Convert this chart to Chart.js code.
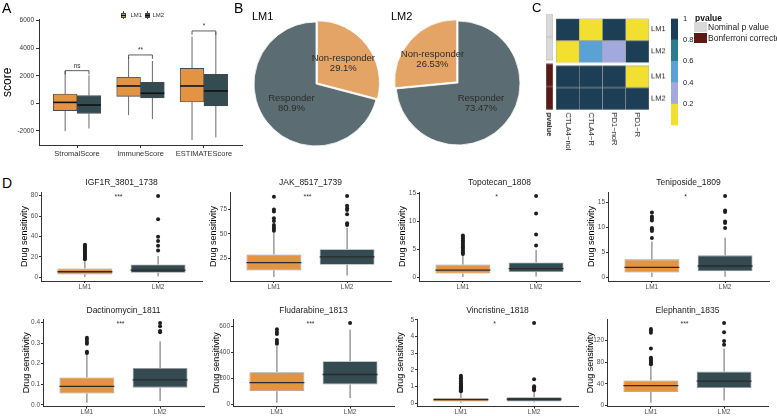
<!DOCTYPE html>
<html><head><meta charset="utf-8">
<script src="https://cdn.jsdelivr.net/npm/chart.js@4"></script>
<style>
body{margin:0;width:777px;height:416px;position:relative;background:#fff;overflow:hidden;font-family:'Liberation Sans',Arial,Helvetica,sans-serif;}
canvas{position:absolute;}
.t{position:absolute;white-space:nowrap;line-height:1;color:#000;}
.sw{position:absolute;}
</style></head><body>
<script>
// ---------------- DATA ----------------
// Panel A
const aCategories = ['StromalScore','ImmuneScore','ESTIMATEScore'];
const aGroups = ['LM1','LM2'];
const aLM1Min = [-2010, -850, -2660];
const aLM1Q1  = [-530, 510, 100];
const aLM1Med = [70, 1260, 1260];
const aLM1Q3  = [680, 1890, 2540];
const aLM1Max = [2350, 3360, 4840];
const aLM2Min = [-1820, -1140, -2470];
const aLM2Q1  = [-730, 390, -190];
const aLM2Med = [-120, 730, 900];
const aLM2Q3  = [560, 1530, 2110];
const aLM2Max = [2030, 3070, 5150];
const aSigLabels = ['ns','**','*'];
const aSigHeights = [2370, 3510, 5250];
const aYTicks = [-2000, 0, 2000, 4000, 6000];

// Panel B
const pieTitles = ['LM1','LM2'];
const lm1PieLabels = ['Non-responder','Responder'];
const lm1PieValues = [29.1, 70.9];
const lm1PieText = ['29.1%','80.9%'];
const lm2PieLabels = ['Responder','Non-responder'];
const lm2PieValues = [73.47, 26.53];
const lm2PieText = ['73.47%','26.53%'];

// Panel C
const hmColumns = ['CTLA4\u2212noR','CTLA4\u2212R','PD1\u2212noR','PD1\u2212R'];
const nominalLM1 = [0.95, 0.08, 0.92, 0.05];
const nominalLM2 = [0.10, 0.50, 0.30, 0.95];
const bonfLM1 = [1, 1, 1, 0.15];
const bonfLM2 = [1, 1, 1, 1];
const cbTicks = [0.2, 0.4, 0.6, 0.8, 1];
const cbBins = [0, 0.2, 0.4, 0.6, 0.8, 1];

// Panel D
const dGroups = ['LM1','LM2'];
const drugs = ['IGF1R_3801_1738','JAK_8517_1739','Topotecan_1808','Teniposide_1809','Dactinomycin_1811','Fludarabine_1813','Vincristine_1818','Elephantin_1835'];
const drugSig = ['***','***','*','*','***','***','*','***'];
const dLM1Min = [0.5, 6, 0.1, 0.05, 0.011, 15, 0.03, 5];
const dLM1Q1  = [3.0, 12.7, 0.72, 0.92, 0.056, 104, 0.10, 24.8];
const dLM1Med = [5.6, 20.5, 1.3, 1.98, 0.090, 168, 0.22, 36.4];
const dLM1Q3  = [8.8, 28.8, 2.3, 3.56, 0.133, 249, 0.32, 46];
const dLM1Max = [17, 51.4, 4.0, 7.1, 0.244, 447, 0.66, 74];
const dLM2Min = [1.0, 7.5, 0.18, 0.1, 0.019, 51, 0.04, 9];
const dLM2Q1  = [4.6, 18.5, 0.98, 1.19, 0.084, 155, 0.10, 32];
const dLM2Med = [7.2, 26.4, 1.6, 2.24, 0.122, 231, 0.24, 44.8];
const dLM2Q3  = [12.7, 34.3, 2.68, 4.36, 0.179, 333, 0.36, 62.4];
const dLM2Max = [20.9, 56.2, 4.9, 7.9, 0.308, 574, 0.72, 105];
const dLM1Out = [
  [17.8,19,20,21,22,23,24,25,26,27,28,29,30,31,32],
  [53,55,57,59,63,65.8,72.6,74.7,87.7],
  [4.2,4.5,4.8,5.1,5.4,5.7,6.0,6.3,6.6,6.9,7.2,7.5],
  [7.85,9.2,9.5,9.8,11.3,11.7,12.1,12.9],
  [0.252,0.258,0.297,0.305,0.316,0.325],
  [467,480,495,541,556,578],
  [0.72,0.78,0.85,0.9,0.95,1.0,1.05,1.1,1.15,1.2,1.3,1.4,1.5,1.58,1.65],
  [76,78,80,82,84,86,88,105,134,138,141]
];
const dLM2Out = [
  [26.4,31,35.6,39.8,56.8,79.5],
  [59,60.6,69.9,74.3,76,78.4,88.4],
  [5.7,7.65,11.4,14.5],
  [9.8,10.8,11.1,13.0,13.3,16.2],
  [0.352,0.358,0.381,0.397],
  [625],
  [0.78,0.85,0.95,1.02,1.44,4.82],
  [112,119,135,152]
];
const dTicks = [
  [0,20,40,60,80],[25,50,75],[0,5,10,15],[0,5,10,15],
  [0,0.1,0.2,0.3,0.4],[0,200,400,600],[0,1,2,3,4,5],[0,40,80,120]
];

// ---------------- STYLE / LAYOUT ----------------
const FONT = "'Liberation Sans', Arial, Helvetica, sans-serif";
const ORANGE = '#E39443', DARK = '#344B51';
const PIE_ORANGE = '#E4A466', PIE_GRAY = '#5B6D72';
const cbColors = ['#F2DF2F','#A2A9DC','#5AA2D3','#2C7B91','#1D3F56'];
const ANNO_NOM = '#D9D9D9', ANNO_BONF = '#5B1A13';
Chart.defaults.font.family = FONT;
Chart.defaults.animation = false;
Chart.defaults.responsive = false;
Chart.defaults.events = [];
Chart.defaults.plugins.legend.display = false;
Chart.defaults.plugins.tooltip.enabled = false;

function mk(left, top, w, h){
  const c = document.createElement('canvas');
  c.width = w; c.height = h;
  c.style.left = left + 'px'; c.style.top = top + 'px';
  c.style.width = w + 'px'; c.style.height = h + 'px';
  document.body.appendChild(c);
  return c;
}
function txt(s, left, top, size, extra){
  const d = document.createElement('div');
  d.className = 't'; d.textContent = s;
  d.style.left = left + 'px'; d.style.top = top + 'px'; d.style.fontSize = size + 'px';
  if (extra) Object.assign(d.style, extra);
  document.body.appendChild(d);
  return d;
}
function sw(left, top, w, h, css){
  const d = document.createElement('div');
  d.className = 'sw';
  Object.assign(d.style, {left:left+'px', top:top+'px', width:w+'px', height:h+'px'}, css);
  document.body.appendChild(d);
  return d;
}

// box-plot whiskers + medians drawn through the chart scales
const boxPlugin = {
  id: 'boxWhisk',
  beforeDatasetsDraw(chart){
    const ys = chart.scales.y, ctx = chart.ctx;
    chart.data.datasets.forEach((ds, di) => {
      if (!ds.stats) return;
      const meta = chart.getDatasetMeta(di);
      meta.data.forEach((bar, i) => {
        ctx.save();
        ctx.strokeStyle = ds.whiskerColor; ctx.lineWidth = ds.whiskerWidth;
        ctx.beginPath();
        ctx.moveTo(bar.x, ys.getPixelForValue(ds.stats.max[i]));
        ctx.lineTo(bar.x, ys.getPixelForValue(ds.data[i].y[1]));
        ctx.moveTo(bar.x, ys.getPixelForValue(ds.data[i].y[0]));
        ctx.lineTo(bar.x, ys.getPixelForValue(ds.stats.min[i]));
        ctx.stroke(); ctx.restore();
      });
    });
  },
  afterDatasetDraw(chart, args){
    const ds = chart.data.datasets[args.index];
    if (!ds.stats) return;
    const ys = chart.scales.y, ctx = chart.ctx;
    args.meta.data.forEach((bar, i) => {
      const y = ys.getPixelForValue(ds.stats.med[i]);
      ctx.save();
      ctx.strokeStyle = ds.medianColor; ctx.lineWidth = ds.medianWidth;
      ctx.beginPath();
      ctx.moveTo(bar.x - bar.width/2, y); ctx.lineTo(bar.x + bar.width/2, y);
      ctx.stroke(); ctx.restore();
    });
  }
};

// ---------------- PANEL A ----------------
const DODGE = 0.1875;
function boxData(q1, q3, shift){ return q1.map((v, i) => ({x: i + 1 + shift, y: [v, q3[i]]})); }
const aBracketPlugin = {
  id: 'aBracket',
  afterDatasetsDraw(chart){
    const xs = chart.scales.x, ys = chart.scales.y, ctx = chart.ctx;
    const tip = (ys.max - ys.min) * 0.03;
    ctx.save();
    ctx.strokeStyle = '#333'; ctx.lineWidth = 0.8; ctx.fillStyle = '#333';
    ctx.font = '6.5px ' + FONT; ctx.textAlign = 'center'; ctx.textBaseline = 'bottom';
    aSigHeights.forEach((h, i) => {
      const x1 = xs.getPixelForValue(i + 1 - DODGE), x2 = xs.getPixelForValue(i + 1 + DODGE);
      const y = ys.getPixelForValue(h), yt = ys.getPixelForValue(h - tip);
      ctx.beginPath(); ctx.moveTo(x1, yt); ctx.lineTo(x1, y); ctx.lineTo(x2, y); ctx.lineTo(x2, yt); ctx.stroke();
      ctx.fillText(aSigLabels[i], (x1 + x2) / 2, y - 1);
    });
    ctx.restore();
  }
};
const aBoxCommon = {borderColor:'#4a4a4a', borderWidth:0.9, borderSkipped:false, grouped:false,
  barPercentage:1, categoryPercentage:1, whiskerColor:'#6a6a6a', whiskerWidth:1, medianColor:'#111', medianWidth:1.6};
new Chart(mk(0, 0, 250, 170), {
  type: 'bar',
  data: {datasets: [
    Object.assign({label: aGroups[0], data: boxData(aLM1Q1, aLM1Q3, -DODGE), backgroundColor: ORANGE,
      stats: {min: aLM1Min, med: aLM1Med, max: aLM1Max}}, aBoxCommon),
    Object.assign({label: aGroups[1], data: boxData(aLM2Q1, aLM2Q3, DODGE), backgroundColor: DARK,
      stats: {min: aLM2Min, med: aLM2Med, max: aLM2Max}}, aBoxCommon)
  ]},
  options: {
    layout: {padding: {top: 19.5, right: 8, left: 0, bottom: 0}},
    scales: {
      x: {type: 'linear', min: 0.4, max: 3.6, offset: false,
        afterBuildTicks: s => { s.ticks = aCategories.map((_, i) => ({value: i + 1})); },
        afterFit: s => { s.height = 25; },
        ticks: {callback: v => aCategories[v - 1], font: {size: 7.5}, color: '#333', padding: 1, maxRotation: 0, autoSkip: false},
        grid: {drawOnChartArea: false, offset: false, tickLength: 3, color: '#333'},
        border: {color: '#333', width: 1}},
      y: {min: -3020, max: 6080,
        afterBuildTicks: s => { s.ticks = aYTicks.map(v => ({value: v})); },
        afterFit: s => { s.width = 39; },
        ticks: {callback: v => String(v), font: {size: 6.5}, color: '#333', padding: 2},
        grid: {drawOnChartArea: false, tickLength: 3, color: '#333'},
        border: {color: '#333', width: 1},
        title: {display: true, text: 'score', font: {size: 12}, color: '#000', padding: 0}}
    }
  },
  plugins: [boxPlugin, aBracketPlugin]
});
// legend A
function legendKey(left, color){
  sw(left + 2.2, 11, 0.8, 8, {background: '#444'});
  sw(left, 12.5, 5, 5, {background: color, border: '0.6px solid #444', boxSizing: 'border-box'});
  sw(left, 14.6, 5, 0.9, {background: '#111'});
}
legendKey(121, ORANGE); txt(aGroups[0], 130.5, 12, 6, {color: '#333'});
legendKey(145, DARK);   txt(aGroups[1], 152.5, 12, 6, {color: '#333'});

// ---------------- PANEL B ----------------
const pieLabelPlugin = {
  id: 'pieLbl',
  afterDatasetsDraw(chart){
    const ctx = chart.ctx, meta = chart.getDatasetMeta(0), ds = chart.data.datasets[0];
    ctx.save();
    ctx.font = '9.5px ' + FONT; ctx.fillStyle = '#2b2b2b'; ctx.textAlign = 'center'; ctx.textBaseline = 'middle';
    meta.data.forEach((arc, i) => {
      const p = arc.getCenterPoint();
      ctx.fillText(chart.data.labels[i], p.x, p.y - 5);
      ctx.fillText(ds.pctText[i], p.x, p.y + 5);
    });
    ctx.restore();
  }
};
function pie(cx, cy, labels, values, texts, colors, offsets){
  new Chart(mk(cx - 75, cy - 75, 150, 150), {
    type: 'pie',
    data: {labels: labels, datasets: [{data: values, backgroundColor: colors, borderColor: '#fff', borderWidth: 0.8, offset: offsets, pctText: texts}]},
    options: {radius: 62, layout: {padding: 0}},
    plugins: [pieLabelPlugin]
  });
}
pie(316, 83.5, lm1PieLabels, lm1PieValues, lm1PieText, [PIE_ORANGE, PIE_GRAY], [7, 0]);
pie(458, 82.5, lm2PieLabels, lm2PieValues, lm2PieText, [PIE_GRAY, PIE_ORANGE], [0, 7]);
txt(pieTitles[0], 252, 11.2, 11);
txt(pieTitles[1], 391, 11.2, 11);

// ---------------- PANEL C ----------------
const GAP = 0.14;
function hmColor(v){ let i = Math.floor(v / 0.2); if (i > 4) i = 4; return cbColors[i]; }
const hmRowValues = [bonfLM2, bonfLM1, null, nominalLM2, nominalLM1];
const hmTickVals = [0.5, 1.5, 2.5 + GAP, 3.5 + GAP];
const hmTickLbl = ['LM2', 'LM1', 'LM2', 'LM1'];
const HM_TOP = 12.3, HM_PADT = 2, HM_PADB = 40, HM_H = 95.7;
const rotLabelPlugin = {
  id: 'rotLbl',
  afterDraw(chart, args, opts){
    const ctx = chart.ctx, xs = chart.scales.x;
    ctx.save();
    ctx.font = (opts.bold ? 'bold ' : '') + '7.5px ' + FONT; ctx.fillStyle = '#222';
    ctx.textAlign = 'left'; ctx.textBaseline = 'middle';
    chart.data.labels.forEach((l, i) => {
      const x = xs.getPixelForValue(i);
      ctx.save(); ctx.translate(x, chart.chartArea.bottom + 2.7); ctx.rotate(Math.PI / 2);
      ctx.fillText(l, 0, 0); ctx.restore();
    });
    ctx.restore();
  }
};
function stackDatasets(rowValues, colorFn, n, border){
  return rowValues.map(vals => vals ?
    {data: Array(n).fill(1), backgroundColor: vals.map(colorFn), borderColor: border, borderWidth: 0.6, borderSkipped: false, barPercentage: 1, categoryPercentage: 1} :
    {data: Array(n).fill(GAP), backgroundColor: 'rgba(0,0,0,0)', borderWidth: 0, barPercentage: 1, categoryPercentage: 1});
}
// heatmap
new Chart(mk(556, HM_TOP, 93 + 22, HM_PADT + HM_H + HM_PADB), {
  type: 'bar',
  data: {labels: hmColumns, datasets: stackDatasets(hmRowValues, hmColor, hmColumns.length, '#9e9e9e')},
  options: {
    layout: {padding: {top: HM_PADT, bottom: HM_PADB, left: 0, right: 0}},
    scales: {
      x: {stacked: true, display: false},
      y: {stacked: true, min: 0, max: 4 + GAP, position: 'right',
        afterBuildTicks: s => { s.ticks = hmTickVals.map(v => ({value: v})); },
        afterFit: s => { s.width = 22; },
        ticks: {callback: (v, i) => hmTickLbl[i], font: {size: 7.5}, color: '#222', padding: 2},
        grid: {display: false, drawTicks: false}, border: {display: false}}
    },
    plugins: {rotLbl: {bold: false}}
  },
  plugins: [rotLabelPlugin]
});
// annotation column (pvalue type)
const annoRows = [bonfLM2, bonfLM1, null, nominalLM2, nominalLM1];
const annoColor = [ANNO_BONF, ANNO_BONF, null, ANNO_NOM, ANNO_NOM];
new Chart(mk(546, HM_TOP, 7, HM_PADT + HM_H + HM_PADB), {
  type: 'bar',
  data: {labels: ['pvalue'], datasets: annoRows.map((r, i) => r ?
    {data: [1], backgroundColor: annoColor[i], borderColor: '#b5b5b5', borderWidth: 0.6, borderSkipped: false, barPercentage: 1, categoryPercentage: 1} :
    {data: [GAP], backgroundColor: 'rgba(0,0,0,0)', borderWidth: 0, barPercentage: 1, categoryPercentage: 1})},
  options: {
    layout: {padding: {top: HM_PADT, bottom: HM_PADB, left: 0, right: 0}},
    scales: {x: {stacked: true, display: false}, y: {stacked: true, min: 0, max: 4 + GAP, display: false}},
    plugins: {rotLbl: {bold: true}}
  },
  plugins: [rotLabelPlugin]
});
// colour bar
new Chart(mk(671, 8.5, 7 + 20, 6 + 116.5 + 4), {
  type: 'bar',
  data: {labels: [''], datasets: cbColors.map((c, i) => ({data: [cbBins[i + 1] - cbBins[i]], backgroundColor: c, borderWidth: 0, barPercentage: 1, categoryPercentage: 1}))},
  options: {
    layout: {padding: {top: 6, bottom: 4, left: 0, right: 0}},
    scales: {
      x: {stacked: true, display: false},
      y: {stacked: true, min: 0, max: 1, position: 'right',
        afterBuildTicks: s => { s.ticks = cbTicks.map(v => ({value: v})); },
        afterFit: s => { s.width = 20; },
        ticks: {callback: v => String(v), font: {size: 7.5}, color: '#222', padding: 5},
        grid: {display: false, drawTicks: false}, border: {display: false}}
    }
  }
});
// pvalue legend
txt('pvalue', 695, 14, 8.5, {fontWeight: 'bold', color: '#111'});
sw(694, 22, 13, 10, {background: ANNO_NOM});
txt('Nominal p value', 708, 23, 8.5, {color: '#222'});
sw(694, 33, 13, 10, {background: ANNO_BONF});
txt('Bonferroni corrected', 708, 34, 8.5, {color: '#222'});

// ---------------- PANEL D ----------------
const dAxisX = [40.7, 230, 418.5, 608, 43.3, 233, 417, 607];
const rowTop = [175, 295], rowH = [117, 121], rowTitleY = [8, 15.7], rowPlotTop = [17, 24], rowXH = [11, 9.3];
const D_YW = 22, D_PW = 162, D_TITLE = 8.5;
const sigPlugin = {
  id: 'sig',
  afterDatasetsDraw(chart, args, opts){
    const xs = chart.scales.x, ys = chart.scales.y, ctx = chart.ctx, ca = chart.chartArea;
    ctx.save(); ctx.font = '7px ' + FONT; ctx.fillStyle = '#333'; ctx.textAlign = 'center'; ctx.textBaseline = 'middle';
    ctx.fillText(opts.text, xs.getPixelForValue(1.5) - 3, ys.getPixelForValue(opts.y) + 1.5);
    // panel title centred over the plotting area
    ctx.font = D_TITLE + 'px ' + FONT; ctx.fillStyle = '#1a1a1a';
    ctx.fillText(opts.title, (ca.left + ca.right) / 2, opts.titleY);
    ctx.restore();
  }
};
drugs.forEach((name, k) => {
  const row = k < 4 ? 0 : 1;
  const all = [dLM1Min[k], dLM2Min[k], dLM1Max[k], dLM2Max[k]].concat(dLM1Out[k], dLM2Out[k]);
  const lo = Math.min(...all), hi = Math.max(...all), pad = (hi - lo) * 0.05;
  const dec = dTicks[k].some(v => !Number.isInteger(v)) ? 1 : 0;
  new Chart(mk(dAxisX[k] - D_YW, rowTop[row], D_YW + D_PW + 3, rowH[row]), {
    type: 'bar',
    data: {datasets: [
      {data: [{x: 1, y: [dLM1Q1[k], dLM1Q3[k]]}, {x: 2, y: [dLM2Q1[k], dLM2Q3[k]]}],
       backgroundColor: [ORANGE, DARK], borderColor: '#9a9a9a', borderWidth: 0.8, borderSkipped: false,
       barPercentage: 0.75, categoryPercentage: 1,
       stats: {min: [dLM1Min[k], dLM2Min[k]], med: [dLM1Med[k], dLM2Med[k]], max: [dLM1Max[k], dLM2Max[k]]},
       whiskerColor: '#555', whiskerWidth: 0.9, medianColor: '#2a2a2a', medianWidth: 1.3},
      {type: 'scatter', data: dLM1Out[k].map(v => ({x: 1, y: v})).concat(dLM2Out[k].map(v => ({x: 2, y: v}))),
       pointRadius: 2, backgroundColor: '#1e1e1e', borderWidth: 0}
    ]},
    options: {
      layout: {padding: {top: rowPlotTop[row], right: 3, left: 0, bottom: 0}},
      plugins: {
        sig: {text: drugSig[k], y: hi, title: name, titleY: rowTitleY[row]}
      },
      scales: {
        x: {type: 'linear', min: 0.4, max: 2.6, offset: false,
          afterBuildTicks: s => { s.ticks = dGroups.map((_, i) => ({value: i + 1})); },
          afterFit: s => { s.height = rowXH[row]; },
          ticks: {callback: v => dGroups[v - 1], font: {size: 6.5}, color: '#4d4d4d', padding: 0, maxRotation: 0, autoSkip: false},
          grid: {drawOnChartArea: false, offset: false, tickLength: 2, color: '#333'},
          border: {color: '#333', width: 1}},
        y: {min: lo - pad, max: hi + pad,
          afterBuildTicks: s => { s.ticks = dTicks[k].map(v => ({value: v})); },
          afterFit: s => { s.width = D_YW; },
          ticks: {callback: v => dec ? v.toFixed(dec) : String(v), font: {size: 6.5}, color: '#4d4d4d', padding: 1},
          grid: {drawOnChartArea: false, tickLength: 2, color: '#333'},
          border: {color: '#333', width: 1},
          title: {display: true, text: 'Drug sensitivity', font: {size: 9}, color: '#000', padding: 0}}
      }
    },
    plugins: [boxPlugin, sigPlugin]
  });
});

// panel letters
txt('A', 2, 1.1, 14);
txt('B', 234, 1.1, 14);
txt('C', 532, 0.8, 13);
txt('D', 2, 176, 14);
</script>
</body></html>
